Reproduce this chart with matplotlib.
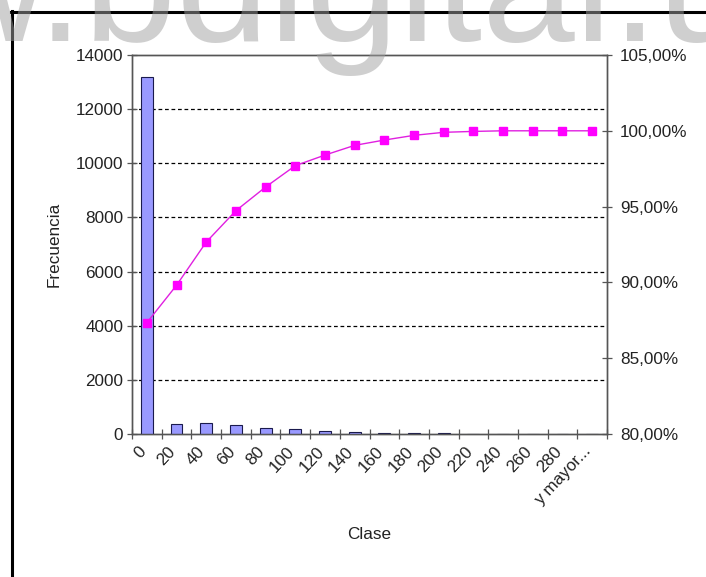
import matplotlib
matplotlib.use("Agg")
import matplotlib.pyplot as plt
import matplotlib.transforms as mtransforms
from matplotlib.lines import Line2D
from matplotlib.ticker import FuncFormatter, FixedLocator

plt.rcParams['font.family'] = ['Liberation Sans', 'DejaVu Sans']

# ---- data ----
categories = ["0", "20", "40", "60", "80", "100", "120", "140", "160", "180",
              "200", "220", "240", "260", "280", "y mayor..."]
frecuencia = [13200, 370, 420, 320, 220, 190, 95, 85, 45, 35, 25, 8, 0, 0, 0, 0]
acumulado_pct = [87.34, 89.81, 92.66, 94.73, 96.29, 97.70, 98.40, 99.04, 99.39,
                 99.70, 99.90, 99.96, 100.0, 100.0, 100.0, 100.0]
y_ticks = [0, 2000, 4000, 6000, 8000, 10000, 12000, 14000]
pct_ticks = [80, 85, 90, 95, 100, 105]

W, H = 706, 577
fig = plt.figure(figsize=(W / 100, H / 100), dpi=100)
fig.patch.set_facecolor('white')

L, R, T, B = 132, 607, 55, 434
ax = fig.add_axes([L / W, 1 - B / H, (R - L) / W, (B - T) / H])
ax2 = ax.twinx()

txt_col = '#222222'
spine_col = '#555555'
fs = 12.3

x = list(range(len(categories)))
ax.bar(x, frecuencia, width=0.4, color='#9999FF', edgecolor='#1a1a4d',
       linewidth=0.8, zorder=3)
ax.set_xlim(-0.5, len(categories) - 0.5)
ax.set_ylim(0, 14000)
ax.set_yticks(y_ticks)
ax.tick_params(axis='y', direction='inout', length=6.5, width=0.9,
               colors=spine_col, labelcolor=txt_col, labelsize=fs, pad=3)

for v in y_ticks[1:-1]:
    ax.axhline(v, color='black', linewidth=0.9, linestyle=(0, (3, 2.2)), zorder=1)

# x ticks: labels at centres, tick marks at boundaries
ax.xaxis.set_major_locator(FixedLocator(x))
ax.set_xticklabels(categories, rotation=47, ha='right', va='top',
                   rotation_mode='anchor')
ax.xaxis.set_minor_locator(FixedLocator([i - 0.5 for i in range(len(categories) + 1)]))
ax.tick_params(axis='x', which='major', length=0, labelsize=fs, labelcolor=txt_col, pad=7)
ax.tick_params(axis='x', which='minor', direction='inout', length=6.5, width=0.9,
               colors=spine_col)
offset = mtransforms.ScaledTranslation(-9 / 100, 0, fig.dpi_scale_trans)
for lab in ax.get_xticklabels():
    lab.set_transform(lab.get_transform() + offset)

for s in ax.spines.values():
    s.set_color(spine_col)
    s.set_linewidth(1.0)
for s in ax2.spines.values():
    s.set_color(spine_col)
    s.set_linewidth(1.0)

ax.set_xlabel('Clase', fontsize=fs, color=txt_col)
ax.xaxis.set_label_coords(0.5, (B - 527) / (B - T))
ax.set_ylabel('Frecuencia', fontsize=fs, color=txt_col, labelpad=10)

ax2.plot(x, acumulado_pct, color='#e020e0', linewidth=1.0, marker='s',
         markersize=5.5, markerfacecolor='#FF00FF', markeredgecolor='#FF00FF', zorder=4)
ax2.set_ylim(80, 105)
ax2.set_yticks(pct_ticks)
ax2.yaxis.set_major_formatter(FuncFormatter(lambda v, p: f"{v:.2f}".replace('.', ',') + "%"))
ax2.tick_params(axis='y', direction='inout', length=6.5, width=0.9,
                colors=spine_col, labelcolor=txt_col, labelsize=fs, pad=6)

# outer frame lines (top and left)
fig.add_artist(Line2D([10.5 / W, 1.0], [1 - 11.5 / H, 1 - 11.5 / H],
                      transform=fig.transFigure, color='black', linewidth=2.2, zorder=2))
fig.add_artist(Line2D([11.5 / W, 11.5 / W], [1 - 10.5 / H, 0.0],
                      transform=fig.transFigure, color='black', linewidth=2.2, zorder=2))

# watermark
fig.text(-74 / W, 1 - 41 / H, "w.bdigital.unal", fontsize=120, color='#a0a0a0',
         alpha=0.5, ha='left', va='baseline', zorder=10)

fig.savefig('out.png', dpi=100, facecolor='white')
